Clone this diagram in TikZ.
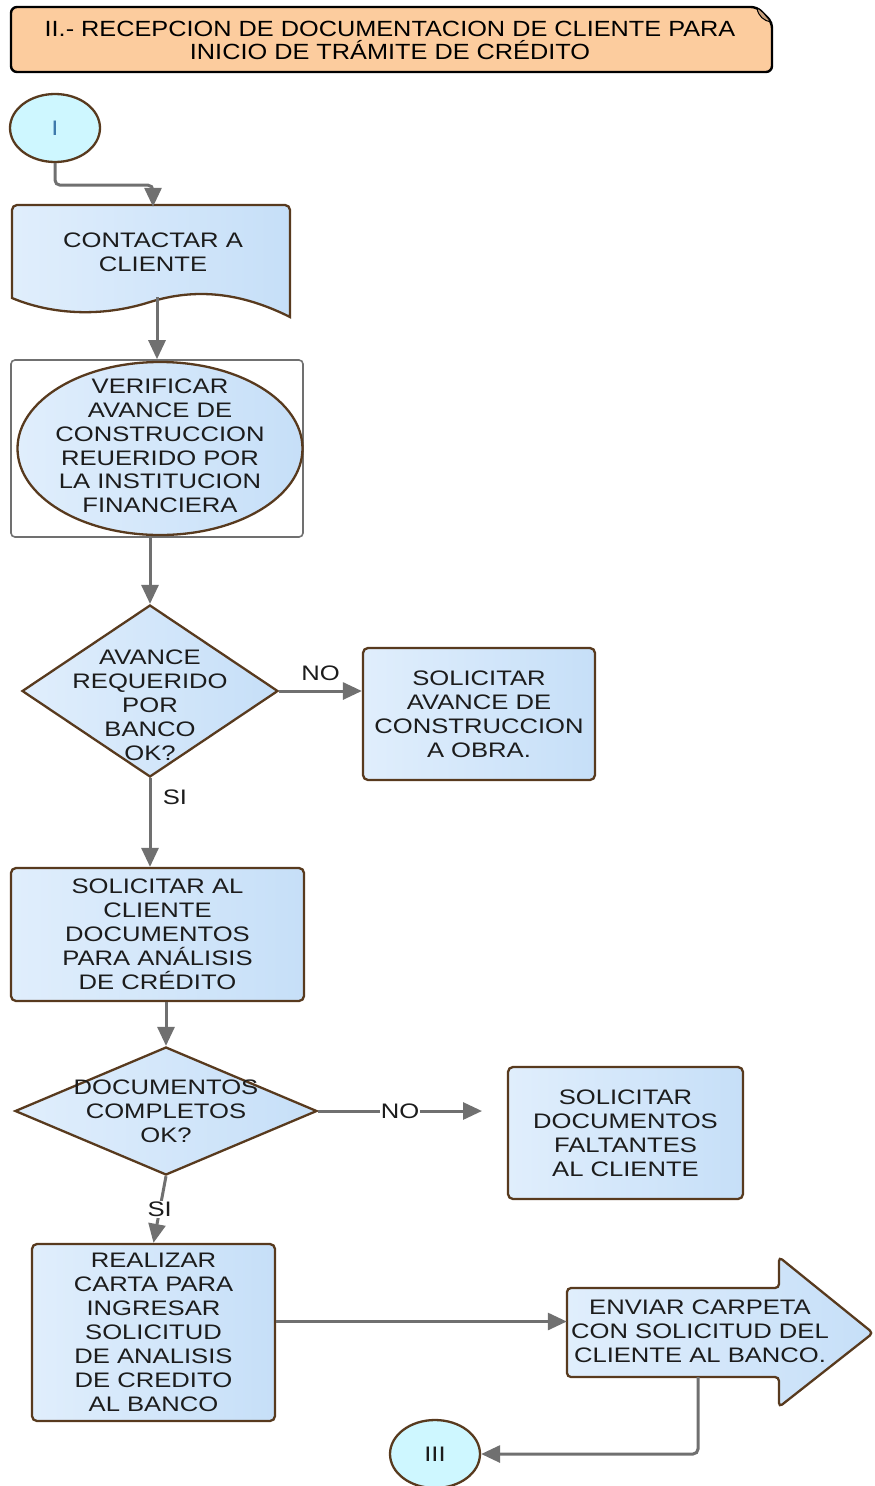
\documentclass[tikz,border=0pt]{standalone}
\usepackage{fontspec}
\setmainfont{Liberation Sans}[FakeStretch=1.22]
\newfontfamily\headfont{Liberation Sans}[FakeStretch=1.15]
\usetikzlibrary{shapes.geometric, arrows.meta, calc}

\definecolor{peach}{RGB}{252,204,158}
\definecolor{peachdark}{RGB}{200,160,125}
\definecolor{boxA}{RGB}{224,238,252}
\definecolor{boxB}{RGB}{198,223,248}
\definecolor{cyanfill}{RGB}{206,247,255}
\definecolor{brownline}{RGB}{88,58,30}
\definecolor{conngray}{RGB}{112,112,112}
\definecolor{txt}{RGB}{28,28,28}
\definecolor{startblue}{RGB}{62,122,172}

\begin{document}
\begin{tikzpicture}[x=1pt, y=-1pt,
  every node/.style={text=txt},
  lbl/.style={font=\fontsize{21}{24}\selectfont, align=center},
  shapeline/.style={draw=brownline, line width=2.3pt},
  bluebox/.style={shapeline, left color=boxA, right color=boxB},
  procbox/.style={bluebox, rectangle, rounded corners=5pt, inner sep=0pt, lbl},
  terminal/.style={shapeline, fill=cyanfill, ellipse, inner sep=0pt,
    minimum width=90pt, minimum height=68pt, font=\fontsize{21}{24}\selectfont},
  decision/.style={bluebox, diamond, inner sep=0pt},
  conn/.style={draw=conngray, line width=3pt,
    -{Triangle[length=19pt, width=17pt]}},
  cutlabel/.style={fill=white, inner sep=1pt, font=\fontsize{21}{24}\selectfont},
  sidelabel/.style={font=\fontsize{21}{24}\selectfont}
]
\useasboundingbox (0,0) rectangle (875,1486);

% ---- heading banner with folded corner ----
\draw[line width=2.4pt, fill=peach, rounded corners=6pt]
  (11,7) -- (757,7) -- (772,22) -- (772,72) -- (11,72) -- cycle;
\filldraw[fill=peachdark, draw=black, line width=1pt]
  (757,8) .. controls (758,16) and (764,21) .. (771,22)
          .. controls (766,16) and (762,10) .. (757,8) -- cycle;
\node[font=\headfont\fontsize{22}{23}\selectfont, align=center, text=black]
  (title) at (390,40)
  {II.- RECEPCION DE DOCUMENTACION DE CLIENTE PARA\\INICIO DE TRÁMITE DE CRÉDITO};

% ---- start connector ----
\node[terminal] (start) at (55,128) {\textcolor{startblue}{I}};

% ---- document shape: contact ----
\draw[bluebox]
  (12,298) [rounded corners=5pt] -- (12,205) -- (290,205) [sharp corners] -- (290,317)
  .. controls (240,292) and (195,288) .. (150,302)
  .. controls (100,318) and (50,314) .. (12,298) -- cycle;
\node[lbl, minimum width=278pt, minimum height=90pt, inner sep=0pt] (contact) at (153,252)
  {CONTACTAR A\\CLIENTE};

% ---- verify: ellipse inside a frame ----
\node[draw=conngray, line width=1.6pt, fill=white, rounded corners=4pt,
  minimum width=292pt, minimum height=177pt, inner sep=0pt] (verify) at (157,448.5) {};
\node[bluebox, ellipse, inner sep=0pt, minimum width=285pt, minimum height=173pt]
  (verifyoval) at (160,448.5) {};
\node[lbl, font=\fontsize{21}{23.7}\selectfont] (verifytext) at (160,446)
  {VERIFICAR\\AVANCE DE\\CONSTRUCCION\\REUERIDO POR\\LA INSTITUCION\\FINANCIERA};

% ---- first decision ----
\node[decision, minimum width=256pt, minimum height=172pt] (dec1) at (150,691) {};
\node[lbl] (dec1text) at (150,705) {AVANCE\\REQUERIDO\\POR\\BANCO\\OK?};

\node[procbox, minimum width=232pt, minimum height=132pt] (askprogress) at (479,714)
  {SOLICITAR\\AVANCE DE\\CONSTRUCCION\\A OBRA.};

% ---- request documents ----
\node[procbox, minimum width=293pt, minimum height=133pt] (askdocs) at (157.5,934.5)
  {SOLICITAR AL\\CLIENTE\\DOCUMENTOS\\PARA ANÁLISIS\\DE CRÉDITO};

% ---- second decision ----
\node[decision, minimum width=302pt, minimum height=128pt] (dec2) at (166,1111) {};
\node[lbl] (dec2text) at (166,1111.5) {DOCUMENTOS\\COMPLETOS\\OK?};

\node[procbox, minimum width=235pt, minimum height=132pt] (missing) at (625.5,1133)
  {SOLICITAR\\DOCUMENTOS\\FALTANTES\\AL CLIENTE};
\coordinate (noend) at (482,1111);

% ---- letter to the bank ----
\node[procbox, minimum width=243pt, minimum height=177pt] (letter) at (153.5,1332.5)
  {REALIZAR\\CARTA PARA\\INGRESAR\\SOLICITUD\\DE ANALISIS\\DE CREDITO\\AL BANCO};

% ---- send folder: block arrow ----
\node[inner sep=0pt, minimum width=212pt, minimum height=89pt] (send) at (673,1332.5) {};
\draw[bluebox, rounded corners=4pt]
  (567,1288) -- (779,1288) -- (779,1257) -- (873,1333) -- (779,1407)
  -- (779,1377) -- (567,1377) -- cycle;
\node[lbl] (sendtext) at (700,1331)
  {ENVIAR CARPETA\\CON SOLICITUD DEL\\CLIENTE AL BANCO.};

% ---- end connector ----
\node[terminal] (finish) at (435,1454) {III};

% ---- connectors ----
\draw[conn, rounded corners=5pt] (start.south) -- ++(0,22) -| (contact.north);
\draw[conn] (verify.north |- contact.south) -- (verify.north);
\draw[conn] (dec1.north |- verify.south) -- (dec1.north);
\draw[conn] (dec1.east) -- (dec1.east -| askprogress.west)
  node[sidelabel, midway, above=5pt] {NO};
\draw[conn] (dec1.south) -- (dec1.south |- askdocs.north)
  node[sidelabel, pos=0.22, right=8pt] {SI};
\draw[conn] (dec2.north |- askdocs.south) -- (dec2.north);
\draw[conn] (dec2.east) -- (noend) node[cutlabel, midway] {NO};
\draw[conn] (dec2.south) -- (letter.north) node[cutlabel, midway] {SI};
\draw[conn] ([yshift=11pt]letter.east) -- ([yshift=11pt]send.west);
\draw[conn, rounded corners=5pt] ([xshift=25pt]send.south) |- (finish.east);
\end{tikzpicture}
\end{document}
